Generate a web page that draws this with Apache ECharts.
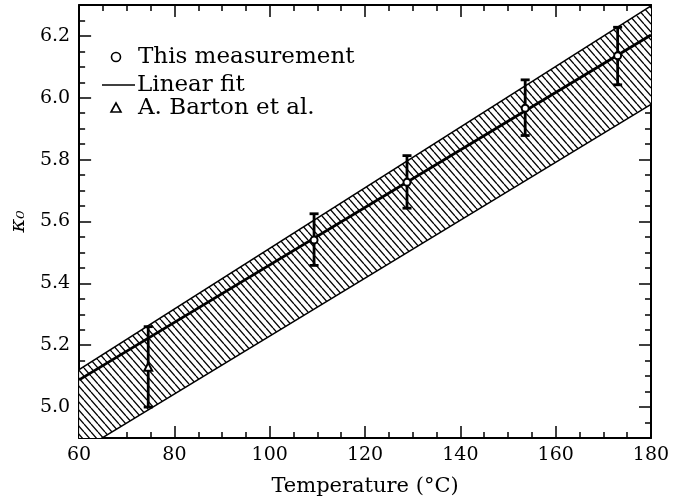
<!DOCTYPE html>
<html><head><meta charset="utf-8">
<script src="https://cdn.jsdelivr.net/npm/echarts@6/dist/echarts.min.js"></script>
<style>html,body{margin:0;padding:0;background:#fff}#c{width:674px;height:502px}</style>
</head><body><div id="c"></div>
<script>
// ---- data ----
const measTemp  = [109.3, 128.8, 153.6, 173.0];
const measKappa = [5.540, 5.727, 5.966, 6.136];
const measLow   = [5.458, 5.643, 5.878, 6.042];
const measHigh  = [5.625, 5.813, 6.058, 6.228];

const bartonTemp  = [74.5];
const bartonKappa = [5.13];
const bartonLow   = [5.00];
const bartonHigh  = [5.26];

const fitTemp  = [60, 180];
const fitKappa = [5.088, 6.203];

const bandTemp  = [60, 180];
const bandUpper = [5.121, 6.297];
const bandLower = [4.855, 5.979];

const xMin = 60, xMax = 180, xStep = 20;
const yMin = 4.9, yMax = 6.3;
const yLabelValues = [5.0, 5.2, 5.4, 5.6, 5.8, 6.0, 6.2];
const yMinorStep = 0.05;

const FONT = 'DejaVu Serif';

// ---- hatch pattern ----
function hatch() {
  const w = 7, h = 8;
  const c = document.createElement('canvas');
  c.width = w; c.height = h;
  const g = c.getContext('2d');
  g.fillStyle = '#fff'; g.fillRect(0, 0, w, h);
  g.strokeStyle = '#000'; g.lineWidth = 1.3;
  for (let k = -1; k <= 1; k++) {
    g.beginPath(); g.moveTo(k * w, 0); g.lineTo(k * w + w, h); g.stroke();
  }
  return c;
}
const pattern = { image: hatch(), repeat: 'repeat' };

const chart = echarts.init(document.getElementById('c'), null, { renderer: 'canvas' });

const baseX = {
  type: 'value', min: xMin, max: xMax, interval: xStep,
  splitLine: { show: false },
  axisLine: { show: true, onZero: false, lineStyle: { color: '#000', width: 2 } },
  axisTick: { show: true, inside: true, length: 12, lineStyle: { color: '#000', width: 1.5 } },
  minorTick: { show: true, splitNumber: 4, length: 6, lineStyle: { color: '#000', width: 1.5 } },
  minorSplitLine: { show: false }
};
const majorY = {
  type: 'value', min: yMin, max: yMax,
  splitLine: { show: false },
  axisLine: { show: true, onZero: false, lineStyle: { color: '#000', width: 2 } },
  axisTick: { show: true, inside: true, length: 12, customValues: yLabelValues, lineStyle: { color: '#000', width: 1.5 } },
  minorTick: { show: false }
};
const minorY = {
  type: 'value', min: yMin, max: yMax, interval: yMinorStep,
  splitLine: { show: false },
  axisLine: { show: false },
  axisLabel: { show: false },
  axisTick: { show: true, inside: true, length: 6, lineStyle: { color: '#000', width: 1.5 } }
};

function errRender(params, api) {
  const x = api.value(0);
  const p1 = api.coord([x, api.value(1)]);
  const p2 = api.coord([x, api.value(2)]);
  const cap = 4.5;
  const st = { stroke: '#000', lineWidth: 2.8 };
  return { type: 'group', children: [
    { type: 'line', shape: { x1: p1[0], y1: p1[1], x2: p2[0], y2: p2[1] }, style: st },
    { type: 'line', shape: { x1: p1[0] - cap, y1: p1[1], x2: p1[0] + cap, y2: p1[1] }, style: st },
    { type: 'line', shape: { x1: p2[0] - cap, y1: p2[1], x2: p2[0] + cap, y2: p2[1] }, style: st }
  ]};
}

function bandRender(params, api) {
  if (params.dataIndex !== 0) return null;
  const up = bandTemp.map((t, i) => api.coord([t, bandUpper[i]]));
  const lo = bandTemp.map((t, i) => api.coord([t, bandLower[i]])).reverse();
  return { type: 'group', children: [
    { type: 'polygon', shape: { points: up.concat(lo) }, style: { fill: pattern, stroke: null } },
    { type: 'polyline', shape: { points: up }, style: { stroke: '#000', lineWidth: 1.5, fill: null } },
    { type: 'polyline', shape: { points: lo }, style: { stroke: '#000', lineWidth: 1.5, fill: null } }
  ]};
}

const option = {
  animation: false,
  backgroundColor: '#fff',
  grid: { left: 79, right: 23, top: 5, bottom: 60, containLabel: false },
  xAxis: [
    Object.assign({}, baseX, {
      position: 'bottom',
      axisLabel: { color: '#000', fontFamily: FONT, fontSize: 19, margin: 8 },
      name: 'Temperature (°C)', nameLocation: 'middle', nameGap: 38,
      nameTextStyle: { color: '#000', fontFamily: FONT, fontSize: 21 }
    }),
    Object.assign({}, baseX, { position: 'top', axisLabel: { show: false } })
  ],
  yAxis: [
    Object.assign({}, majorY, {
      position: 'left',
      axisLabel: { color: '#000', fontFamily: FONT, fontSize: 19, margin: 9, customValues: yLabelValues,
        formatter: v => v.toFixed(1) },
      name: 'κ₀', nameLocation: 'middle', nameGap: 50, nameRotate: 90,
      nameTextStyle: { color: '#000', fontFamily: 'DejaVu Serif', fontSize: 21, fontStyle: 'italic' }
    }),
    Object.assign({}, majorY, { position: 'right', axisLabel: { show: false } }),
    Object.assign({}, minorY, { position: 'left' }),
    Object.assign({}, minorY, { position: 'right' })
  ],
  series: [
    {
      type: 'custom', name: 'band', clip: true, z: 1,
      data: bandTemp.map((t, i) => [t, bandUpper[i], bandLower[i]]),
      renderItem: bandRender
    },
    {
      type: 'line', name: 'Linear fit', z: 3, clip: true,
      data: fitTemp.map((t, i) => [t, fitKappa[i]]),
      showSymbol: false, symbol: 'none',
      lineStyle: { color: '#000', width: 2.8 }
    },
    {
      type: 'custom', name: 'meas err', z: 4,
      data: measTemp.map((t, i) => [t, measLow[i], measHigh[i]]),
      renderItem: errRender
    },
    {
      type: 'custom', name: 'barton err', z: 4,
      data: bartonTemp.map((t, i) => [t, bartonLow[i], bartonHigh[i]]),
      renderItem: errRender
    },
    {
      type: 'scatter', name: 'This measurement', z: 5,
      data: measTemp.map((t, i) => [t, measKappa[i]]),
      symbol: 'circle', symbolSize: 7,
      itemStyle: { color: '#fff', borderColor: '#000', borderWidth: 2, opacity: 1 }
    },
    {
      type: 'scatter', name: 'A. Barton et al.', z: 5,
      data: bartonTemp.map((t, i) => [t, bartonKappa[i]]),
      symbol: 'triangle', symbolSize: 8,
      itemStyle: { color: '#fff', borderColor: '#000', borderWidth: 2, opacity: 1 }
    }
  ],
  graphic: [
    { type: 'circle', shape: { cx: 116, cy: 57, r: 4.5 }, style: { fill: '#fff', stroke: '#000', lineWidth: 1.6 } },
    { type: 'text', x: 138, y: 57, style: { text: 'This measurement', font: '23px "DejaVu Serif"', fill: '#000', verticalAlign: 'middle' } },
    { type: 'line', shape: { x1: 102, y1: 85, x2: 135, y2: 85 }, style: { stroke: '#000', lineWidth: 1.3 } },
    { type: 'text', x: 137, y: 85, style: { text: 'Linear fit', font: '23px "DejaVu Serif"', fill: '#000', verticalAlign: 'middle' } },
    { type: 'polygon', shape: { points: [[111, 112], [121, 112], [116, 103]] }, style: { fill: '#fff', stroke: '#000', lineWidth: 1.6 } },
    { type: 'text', x: 138, y: 108, style: { text: 'A. Barton et al.', font: '23px "DejaVu Serif"', fill: '#000', verticalAlign: 'middle' } }
  ]
};
chart.setOption(option);
</script>
</body></html>
